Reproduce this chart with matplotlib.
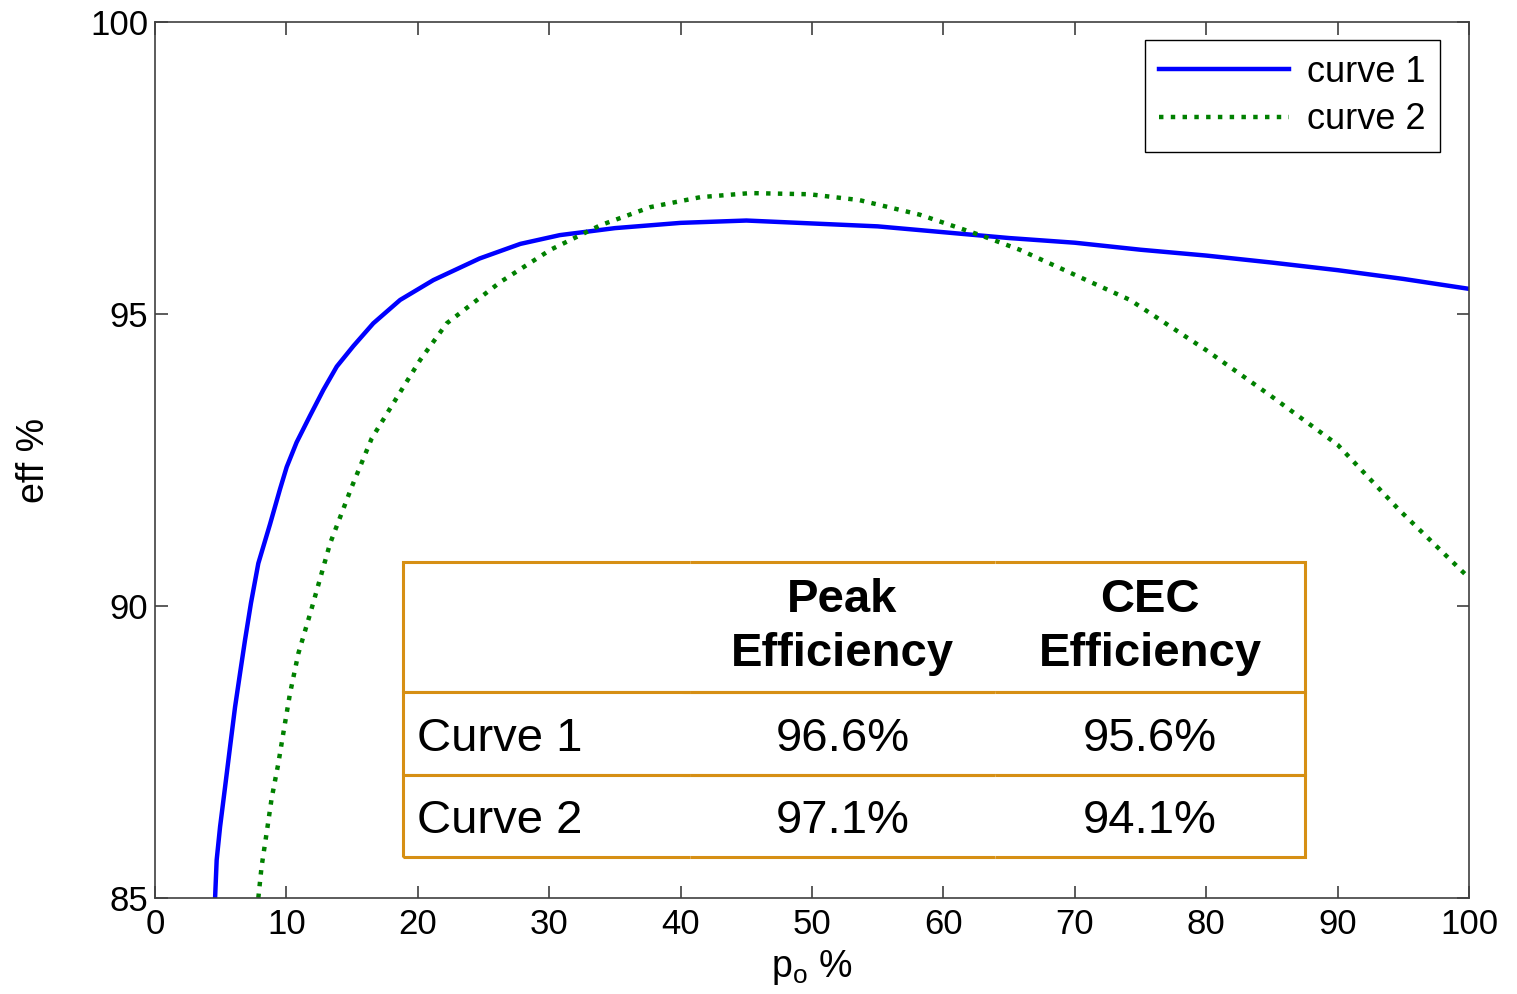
import matplotlib
matplotlib.use("Agg")
import matplotlib.pyplot as plt

plt.rcParams['font.family'] = ['Liberation Sans', 'DejaVu Sans']

# curve data (p_o % vs eff %)
x_curve1 = [4.57, 4.69, 4.95, 5.33, 5.71, 6.09, 6.47, 6.85, 7.3, 7.86, 8.75, 9.51, 10.02,
            10.77, 11.8, 12.81, 13.83, 15.09, 16.61, 18.65, 21.18, 24.7, 27.8, 30.8, 35.0,
            40.0, 45.0, 50.0, 55.0, 60.0, 65.0, 70.0, 75.0, 80.0, 85.0, 90.0, 95.0, 100.0]
y_curve1 = [85.0, 85.65, 86.22, 86.9, 87.59, 88.27, 88.85, 89.42, 90.05, 90.73, 91.4, 92.0, 92.38,
            92.8, 93.26, 93.7, 94.1, 94.45, 94.84, 95.24, 95.58, 95.95, 96.2, 96.35, 96.47,
            96.56, 96.6, 96.55, 96.5, 96.4, 96.3, 96.22, 96.1, 96.0, 95.88, 95.75, 95.6, 95.43]

x_curve2 = [7.86, 8.11, 8.49, 8.87, 9.38, 9.76, 10.27, 10.91, 11.82, 13.32, 14.97, 16.49, 18.13,
            20.17, 22.2, 26.3, 30.1, 33.9, 37.7, 41.5, 45.3, 49.8, 53.6, 58.2, 62.8, 65.8,
            70.0, 74.2, 80.0, 84.9, 90.0, 94.7, 100.0]
y_curve2 = [85.0, 85.54, 86.11, 86.7, 87.3, 87.82, 88.5, 89.19, 89.88, 91.07, 92.04, 92.87, 93.47,
            94.21, 94.84, 95.55, 96.1, 96.52, 96.83, 97.0, 97.07, 97.05, 96.95, 96.7, 96.35, 96.1,
            95.67, 95.24, 94.38, 93.6, 92.76, 91.64, 90.48]

# summary table
row_names = ["Curve 1", "Curve 2"]
col_names = ["Peak\nEfficiency", "CEC\nEfficiency"]
peak_eff = ["96.6%", "97.1%"]
cec_eff = ["95.6%", "94.1%"]

fig = plt.figure(figsize=(15.17, 9.94), dpi=100)
ax = fig.add_axes([0.1022, 0.0966, 0.8662, 0.8813])

ax.plot(x_curve1, y_curve1, color='#0000FF', lw=3.2, label='curve 1')
ax.plot(x_curve2, y_curve2, color='#008000', lw=3.2, ls=':', label='curve 2')

ax.set_xlim(0, 100)
ax.set_ylim(85, 100)
ax.set_xticks(range(0, 101, 10))
ax.set_yticks([85, 90, 95, 100])
ax.tick_params(direction='in', length=9, width=1.2, color='#404040', labelsize=25,
               top=True, right=True)
ax.tick_params(axis='x', pad=7)
ax.tick_params(axis='y', pad=5)
for s in ax.spines.values():
    s.set_color('#404040')
    s.set_linewidth(1.2)

ax.set_xlabel(r'p$_\mathregular{o}$ %', fontsize=27, labelpad=5)
ax.set_ylabel('eff %', fontsize=27, labelpad=27)

leg = ax.legend(loc='upper right', bbox_to_anchor=(0.978, 0.979), borderaxespad=0,
                fontsize=26, handlelength=3.6, handletextpad=0.5, borderpad=0.4,
                labelspacing=0.35, fancybox=False, edgecolor='black', framealpha=1)
leg.get_frame().set_linewidth(1.0)

# table with horizontal rules and outer border only
cell_text = [[""] + col_names] + [[row_names[i], peak_eff[i], cec_eff[i]] for i in range(2)]
tbl = ax.table(cellText=cell_text, bbox=[0.1887, 0.0468, 0.6865, 0.3368],
               cellLoc='center', zorder=5)
tbl.auto_set_font_size(False)
col_w = [287, 305, 310]
row_h = [130, 82, 82]
edges = ['BLT', 'BT', 'BRT']
for (r, c), cell in tbl.get_celld().items():
    cell.set_width(col_w[c] / sum(col_w))
    cell.set_height(row_h[r] / sum(row_h))
    cell.visible_edges = edges[c]
    cell.set_edgecolor('#D68F14')
    cell.set_linewidth(2.2)
    cell.set_facecolor('white')
    txt = cell.get_text()
    txt.set_fontsize(34)
    if r == 0:
        txt.set_fontweight('bold')
        txt.set_linespacing(1.3)
    else:
        txt.set_va('center_baseline')
    if c == 0:
        txt.set_ha('left')
        cell.PAD = 0.05

plt.savefig('out.png', dpi=100)
